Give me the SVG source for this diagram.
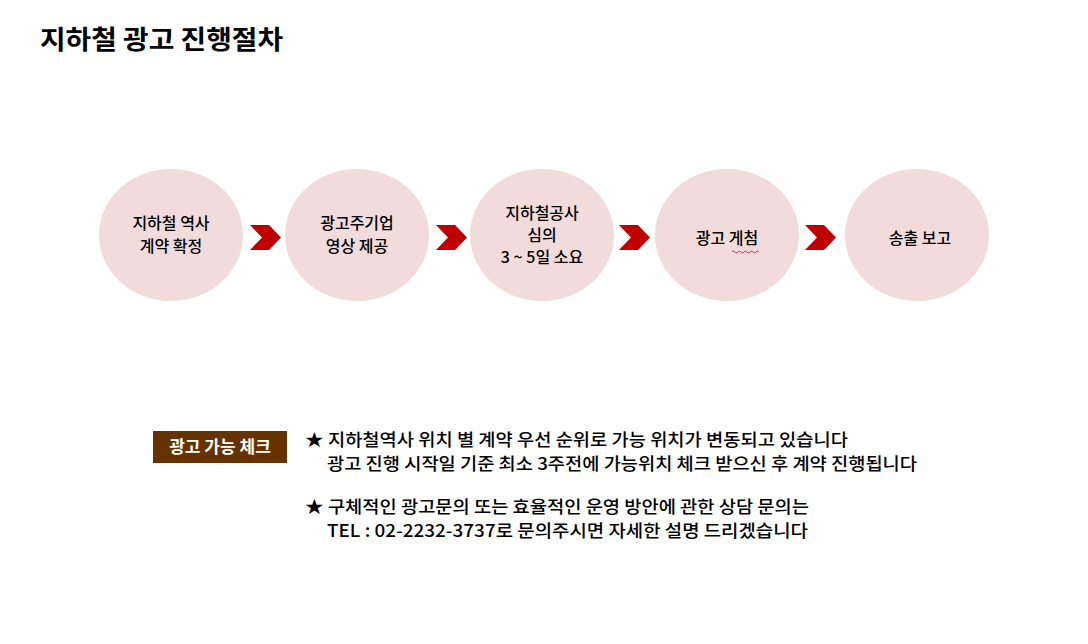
<svg xmlns="http://www.w3.org/2000/svg" width="1088" height="644" viewBox="0 0 1088 644">
<style>
text{font-family:"Noto Sans CJK KR","Noto Sans",sans-serif;fill:#000}
.c{fill:#f2dcdb}
.n{font-size:16px;font-weight:500;text-anchor:middle}
.b{font-size:17px;font-weight:500}
.ch{fill:#c00000}
</style>
<rect width="1088" height="644" fill="#fff"/>
<text x="40" y="49" textLength="243" lengthAdjust="spacingAndGlyphs" style="font-size:26px;font-weight:700">지하철 광고 진행절차</text>
<g id="n1"><ellipse class="c" cx="171" cy="235" rx="72" ry="66"/><text class="n" x="171" y="229">지하철 역사</text><text class="n" x="171" y="252">계약 확정</text></g>
<g id="n2"><ellipse class="c" cx="357" cy="235" rx="72" ry="66"/><text class="n" x="357" y="229">광고주기업</text><text class="n" x="357" y="252">영상 제공</text></g>
<g id="n3"><ellipse class="c" cx="542" cy="235" rx="72" ry="66"/><text class="n" x="542" y="219">지하철공사</text><text class="n" x="542" y="241">심의</text><text class="n" x="542" y="263">3 ~ 5일 소요</text></g>
<g id="n4"><ellipse class="c" cx="727" cy="235" rx="72" ry="66"/><text class="n" x="727" y="244">광고 게첨</text><path d="M732 252 q1.5 -2 3 0 t3 0 t3 0 t3 0 t3 0 t3 0 t3 0 t3 0 t3 0" fill="none" stroke="#e00" stroke-width="0.8"/></g>
<g id="n5"><ellipse class="c" cx="917" cy="235" rx="72" ry="66"/><text class="n" x="920" y="244">송출 보고</text></g>
<g id="connectors">
<polygon class="ch" points="250,225 269,225 281,237.5 269,250 250,250 262,237.5"/>
<polygon class="ch" points="436,225 455,225 467,237.5 455,250 436,250 448,237.5"/>
<polygon class="ch" points="619,225 638,225 650,237.5 638,250 619,250 631,237.5"/>
<polygon class="ch" points="805,225 824,225 836,237.5 824,250 805,250 817,237.5"/>
</g>
<g id="check">
<rect x="153" y="431" width="134" height="32" fill="#663300"/>
<text x="220" y="453" style="font-size:17px;font-weight:700;fill:#fff;text-anchor:middle">광고 가능 체크</text>
</g>
<g id="notes">
<text class="b" x="305" y="446" textLength="543" lengthAdjust="spacingAndGlyphs">★ 지하철역사 위치 별 계약 우선 순위로 가능 위치가 변동되고 있습니다</text>
<text class="b" x="327" y="470" textLength="590" lengthAdjust="spacingAndGlyphs">광고 진행 시작일 기준 최소 3주전에 가능위치 체크 받으신 후 계약 진행됩니다</text>
<text class="b" x="305" y="513" textLength="504" lengthAdjust="spacingAndGlyphs">★ 구체적인 광고문의 또는 효율적인 운영 방안에 관한 상담 문의는</text>
<text class="b" x="327" y="537" textLength="481" lengthAdjust="spacingAndGlyphs">TEL : 02-2232-3737로 문의주시면 자세한 설명 드리겠습니다</text>
</g>
</svg>
